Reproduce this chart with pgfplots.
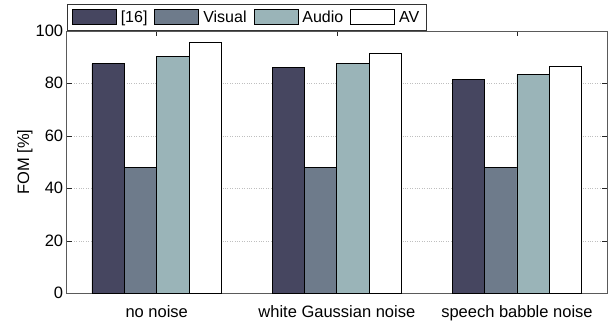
\documentclass[border=0pt]{standalone}
\usepackage{pgfplots}
\pgfplotsset{compat=1.18}
\usepackage{fontspec}
\setmainfont{Liberation Sans}
\definecolor{cA}{RGB}{70,70,96}
\definecolor{cB}{RGB}{110,123,139}
\definecolor{cC}{RGB}{154,180,184}
\definecolor{axc}{RGB}{90,90,90}
\begin{document}
\begin{tikzpicture}
\begin{axis}[
  scale only axis,
  width=540.3pt, height=262.5pt,
  font=\fontsize{16.5}{19}\selectfont,
  /pgf/number format/assume math mode=true,
  ybar=0pt, bar width=0.18,
  xmin=-0.5, xmax=2.5,
  ymin=0, ymax=100,
  ytick={0,20,...,100},
  xtick={0,1,2},
  xticklabels={no noise, white Gaussian noise, speech babble noise},
  tick align=inside,
  major tick length=5pt,
  axis line style={draw=axc, line width=0.6pt},
  every tick/.style={draw=black!85, line width=0.6pt},
  ymajorgrids,
  grid style={dotted, draw=black!25, line width=0.6pt},
  ylabel={FOM [\%]},
  ylabel style={at={(axis description cs:-0.0775,0.5)}, anchor=center},
  xticklabel style={yshift=-9pt},
  legend columns=-1,
  legend style={at={(0,1)}, anchor=south west, draw=black!80, line width=0.6pt,
    inner xsep=5pt, inner ysep=4.5pt, font=\fontsize{16}{19}\selectfont,
    /tikz/every odd column/.append style={column sep=2pt},
    /tikz/every even column/.append style={column sep=5pt}},
  legend image code/.code={\draw[#1,line width=0.8pt] (0pt,-6.8pt) rectangle (44pt,7.8pt);},
  every axis plot/.append style={draw=black, line width=0.8pt},
]
\addplot[fill=cA] coordinates {(0,87.4) (1,85.9) (2,81.6)};
\addlegendentry{\relax[16]}
\addplot[fill=cB] coordinates {(0,47.8) (1,47.8) (2,47.8)};
\addlegendentry{Visual}
\addplot[fill=cC] coordinates {(0,90.4) (1,87.4) (2,83.3)};
\addlegendentry{Audio}
\addplot[fill=white] coordinates {(0,95.5) (1,91.4) (2,86.5)};
\addlegendentry{AV}
\end{axis}
\pgfresetboundingbox
\path ([shift={(-66.7pt,-31.7pt)}]current axis.south west) rectangle ([shift={(4pt,30.8pt)}]current axis.north east);
\end{tikzpicture}
\end{document}
